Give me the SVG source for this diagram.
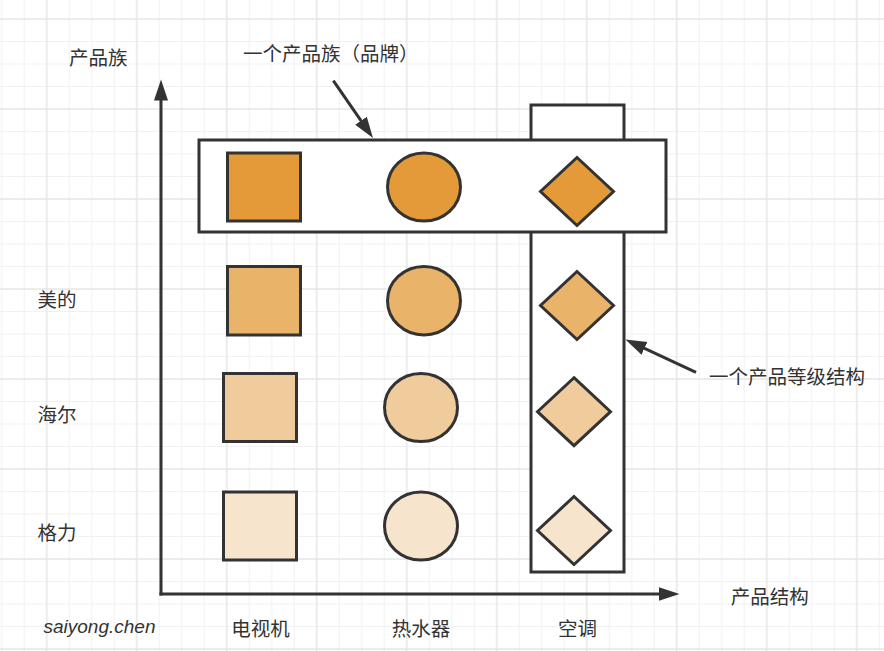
<svg xmlns="http://www.w3.org/2000/svg" width="884" height="651" viewBox="0 0 884 651">
<defs>
<pattern id="grid" patternUnits="userSpaceOnUse" x="46.7" y="19" width="90" height="90">
<rect width="90" height="90" fill="#ffffff"/>
<g fill="#f1f1f1">
<rect x="22" y="0" width="1" height="90"/>
<rect x="44.5" y="0" width="1" height="90"/>
<rect x="67" y="0" width="1" height="90"/>
<rect x="0" y="22" width="90" height="1"/>
<rect x="0" y="44.5" width="90" height="1"/>
<rect x="0" y="67" width="90" height="1"/>
</g>
<g fill="#e6e6e6">
<rect x="-0.7" y="0" width="1.5" height="90"/>
<rect x="89.3" y="0" width="1.5" height="90"/>
<rect x="0" y="-0.7" width="90" height="1.5"/>
<rect x="0" y="89.3" width="90" height="1.5"/>
</g>
</pattern>
<marker id="arr" markerUnits="userSpaceOnUse" markerWidth="22" markerHeight="16" viewBox="0 0 22 16" refX="0.5" refY="8" orient="auto">
<path d="M0,1 L21,8 L0,15 Z" fill="#333333"/>
</marker>
<style>
.s{stroke:#333333;stroke-width:3}
.c1{fill:#E49A38}.c2{fill:#E9B469}.c3{fill:#F0CB9B}.c4{fill:#F7E4CD}
.box{fill:#ffffff;stroke:#333333;stroke-width:3}
.t{font-family:"Noto Sans CJK SC","Noto Sans",sans-serif;font-size:19.5px;fill:#333333;dominant-baseline:central}
.m{text-anchor:middle}
.ln{stroke:#333333;stroke-width:3;fill:none}
</style>
</defs>
<rect width="884" height="651" fill="url(#grid)"/>

<g id="connectors">
<line class="ln" x1="161" y1="595.5" x2="161" y2="100" marker-end="url(#arr)"/>
<line class="ln" x1="159.5" y1="594" x2="659" y2="594" marker-end="url(#arr)"/>
<line class="ln" x1="333.3" y1="80.7" x2="361.3" y2="121.1" marker-end="url(#arr)"/>
<line class="ln" x1="696" y1="372.3" x2="644" y2="348.2" marker-end="url(#arr)"/>
</g>

<g id="level-structure">
<rect class="box" x="531" y="105" width="93" height="467"/>
</g>
<g id="product-family">
<rect class="box" x="199" y="140" width="467" height="92"/>
</g>

<g id="row1">
<rect class="s c1" x="227.5" y="153" width="73" height="68"/>
<ellipse class="s c1" cx="424" cy="187" rx="36.5" ry="34"/>
<polygon class="s c1" points="577,157.5 613.5,191.5 577,225.5 540.5,191.5"/>
</g>
<g id="row2">
<rect class="s c2" x="227.5" y="266.5" width="73" height="68.5"/>
<ellipse class="s c2" cx="424" cy="300.7" rx="36.5" ry="34.3"/>
<polygon class="s c2" points="577,271.5 613.5,305.5 577,339.5 540.5,305.5"/>
</g>
<g id="row3">
<rect class="s c3" x="223.5" y="373.5" width="73" height="68"/>
<ellipse class="s c3" cx="421" cy="407.5" rx="36.5" ry="34"/>
<polygon class="s c3" points="574,377.7 610.5,411.7 574,445.7 537.5,411.7"/>
</g>
<g id="row4">
<rect class="s c4" x="223.5" y="492" width="73" height="68"/>
<ellipse class="s c4" cx="421" cy="526" rx="36.5" ry="34"/>
<polygon class="s c4" points="574,496.5 610.5,530.5 574,564.5 537.5,530.5"/>
</g>

<g id="labels">
<text class="t m" x="98.3" y="56">产品族</text>
<text class="t" x="243" y="52">一个产品族（品牌）</text>
<text class="t" x="37.5" y="298">美的</text>
<text class="t" x="37.5" y="413">海尔</text>
<text class="t" x="37.5" y="531">格力</text>
<text class="t" x="709" y="375">一个产品等级结构</text>
<text class="t m" x="769.7" y="595">产品结构</text>
<text class="t m" x="260.5" y="627">电视机</text>
<text class="t m" x="421" y="627.5">热水器</text>
<text class="t m" x="577.5" y="627">空调</text>
<text x="43.5" y="626" style="font-family:'Liberation Sans',Arial,sans-serif;font-style:italic;font-size:19px;fill:#333333;dominant-baseline:central">saiyong.chen</text>
</g>
</svg>
